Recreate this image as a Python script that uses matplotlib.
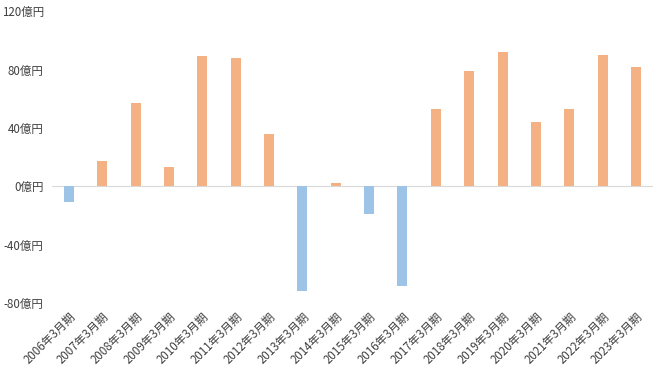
import matplotlib
matplotlib.use("Agg")
import matplotlib.pyplot as plt
from matplotlib.ticker import FixedLocator, FuncFormatter

plt.rcParams['font.family'] = ['Noto Sans CJK JP', 'DejaVu Sans']

categories = [f"{y}年3月期" for y in range(2006, 2024)]
values = [-11, 17, 57, 13, 89, 88, 36, -72, 2, -19, -68, 53, 79, 92, 44, 53, 90, 82]
yticks = [-80, -40, 0, 40, 80, 120]

pos_color = "#F4B183"
neg_color = "#9DC3E6"
text_color = "#404040"

fig = plt.figure(figsize=(6.6, 3.71), dpi=100)
ax = fig.add_axes([0.079, 0.183, 0.91, 0.787])

x = list(range(len(categories)))
colors = [pos_color if v >= 0 else neg_color for v in values]
ax.bar(x, values, width=0.3, color=colors, zorder=2)

ax.set_xlim(-0.5, len(categories) - 0.5)
ax.set_ylim(-80, 120)
ax.yaxis.set_major_locator(FixedLocator(yticks))
ax.yaxis.set_major_formatter(FuncFormatter(lambda v, p: f"{int(v)}億円"))
ax.axhline(0, color="#D9D9D9", lw=0.8, zorder=1)

for s in ax.spines.values():
    s.set_visible(False)
ax.tick_params(axis='y', length=0, labelsize=8.3, labelcolor=text_color, pad=6)
ax.tick_params(axis='x', length=0, labelsize=8.3, labelcolor=text_color, pad=5)
ax.set_xticks(x)
ax.set_xticklabels(categories, rotation=45, ha='right', rotation_mode='anchor')

fig.savefig("out.png", dpi=100, facecolor="white")
